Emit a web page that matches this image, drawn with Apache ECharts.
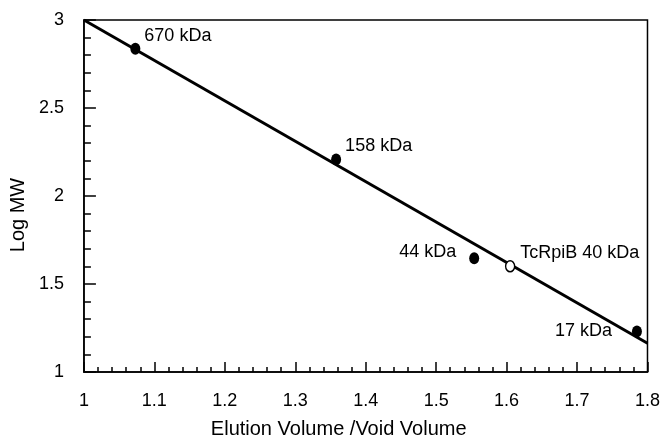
<!DOCTYPE html>
<html lang="en">

<head>
    <meta charset="UTF-8">
    <style>
        html, body { margin: 0; padding: 0; background: #fff; }
        #main { width: 663px; height: 444px; }
    </style>
    <title>Log MW vs elution volume</title>
</head>

<body>
    <div id="main"></div>
    <script src="https://cdn.jsdelivr.net/npm/echarts@6/dist/echarts.min.js"></script>
    <script>
        // standards (filled) and the sample (open)
        var stdNames = ['670 kDa', '158 kDa', '44 kDa', '17 kDa'];
        var stdX = [1.073, 1.358, 1.554, 1.785];
        var stdY = [2.837, 2.208, 1.646, 1.230];

        var sampleNames = ['TcRpiB 40 kDa'];
        var sampleX = [1.605];
        var sampleY = [1.601];

        // regression line end points
        var fitX = [1.0, 1.8];
        var fitY = [3.0, 1.163];

        // label placement per point (style, not data)
        var stdLabel = [
            { position: 'right', distance: 4, offset: [0, -13] },
            { position: 'right', distance: 4, offset: [0, -13] },
            { position: 'left', distance: 13, offset: [0, -6] },
            { position: 'left', distance: 20, offset: [0, 0] }
        ];
        var sampleLabel = [
            { position: 'right', distance: 5, offset: [0, -13] }
        ];

        var font = 'Liberation Sans, Arial, Helvetica, sans-serif';

        function pts(xs, ys, names, labels) {
            return xs.map(function (x, i) {
                return { value: [x, ys[i]], name: names[i], label: labels[i] };
            });
        }

        var option = {
            backgroundColor: '#fff',
            animation: false,
            textStyle: { fontFamily: font, color: '#000' },
            grid: {
                left: 83, right: 11, top: 20, bottom: 68,
                show: true,
                borderColor: '#000',
                borderWidth: 1.5,
                backgroundColor: 'transparent'
            },
            xAxis: {
                type: 'value',
                min: 1, max: 1.8, interval: 0.1,
                name: 'Elution Volume /Void Volume',
                nameLocation: 'middle',
                nameGap: 47,
                nameTextStyle: { fontSize: 20, color: '#000', fontFamily: font, padding: [0, 54, 0, 0] },
                axisLine: { lineStyle: { color: '#000', width: 1.5 } },
                axisTick: { inside: true, length: 10, lineStyle: { color: '#000', width: 1.5 } },
                minorTick: { show: true, splitNumber: 5, length: 5, lineStyle: { color: '#000', width: 1.5 } },
                splitLine: { show: false },
                axisLabel: { fontSize: 18, color: '#000', margin: 20, fontFamily: font }
            },
            yAxis: {
                type: 'value',
                min: 1, max: 3, interval: 0.5,
                name: 'Log MW',
                nameLocation: 'middle',
                nameGap: 50,
                nameTextStyle: { fontSize: 20, color: '#000', fontFamily: font, padding: [0, 38, 0, 0] },
                axisLine: { lineStyle: { color: '#000', width: 1.5 } },
                axisTick: { inside: true, length: 12, lineStyle: { color: '#000', width: 1.5 } },
                minorTick: { show: true, splitNumber: 5, length: 7, lineStyle: { color: '#000', width: 1.5 } },
                splitLine: { show: false },
                axisLabel: { fontSize: 18, color: '#000', margin: 20, fontFamily: font }
            },
            series: [{
                name: 'fit',
                type: 'line',
                data: fitX.map(function (x, i) { return [x, fitY[i]]; }),
                showSymbol: false,
                symbol: 'none',
                lineStyle: { color: '#000', width: 3 },
                z: 2
            }, {
                name: 'standards',
                type: 'scatter',
                symbol: 'circle',
                symbolSize: [10, 12],
                itemStyle: { color: '#000', opacity: 1 },
                label: {
                    show: true,
                    formatter: '{b}',
                    fontSize: 18,
                    color: '#000',
                    opacity: 1,
                    fontFamily: font
                },
                data: pts(stdX, stdY, stdNames, stdLabel),
                z: 3
            }, {
                name: 'sample',
                type: 'scatter',
                symbol: 'circle',
                symbolSize: [9, 11],
                itemStyle: { color: '#fff', borderColor: '#000', borderWidth: 1.5, opacity: 1 },
                label: {
                    show: true,
                    formatter: '{b}',
                    fontSize: 18,
                    color: '#000',
                    opacity: 1,
                    fontFamily: font
                },
                data: pts(sampleX, sampleY, sampleNames, sampleLabel),
                z: 3
            }]
        };

        var myChart = echarts.init(document.getElementById('main'));
        myChart.setOption(option);
    </script>
</body>

</html>
